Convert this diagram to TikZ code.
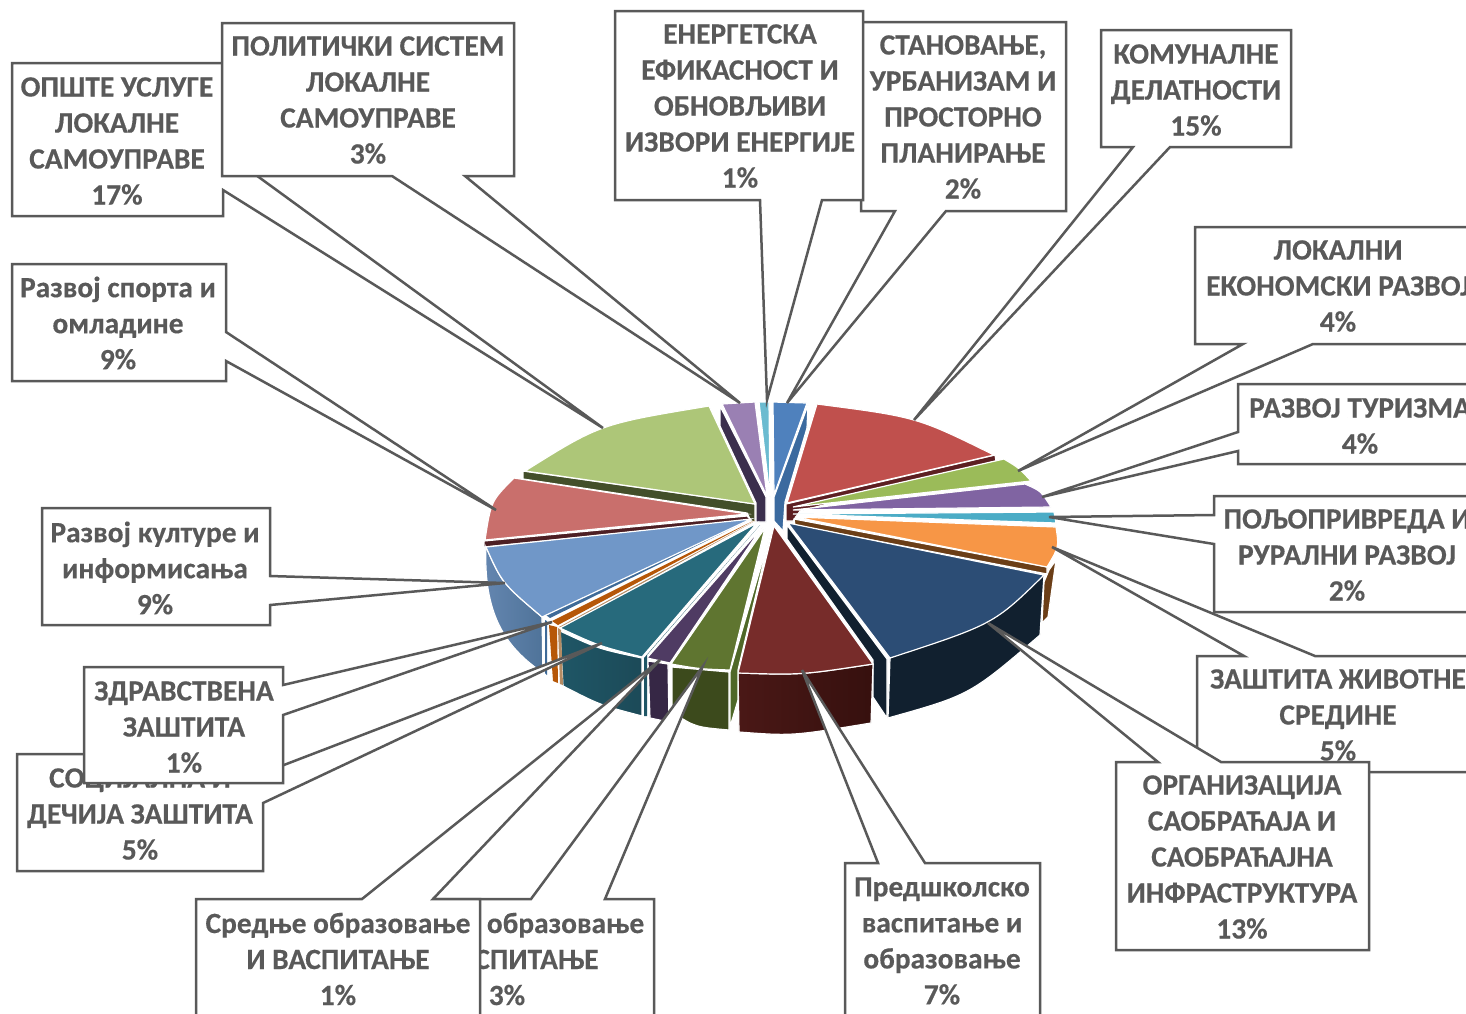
\documentclass[tikz,border=0pt]{standalone}
\usepackage{fontspec}
\setmainfont{Carlito}[BoldFeatures={FakeBold=0.35}]
\definecolor{linegray}{HTML}{595959}
\definecolor{cBlue}{HTML}{4F81BD}\definecolor{cBlueS}{HTML}{3B6A9F}
\definecolor{cRed}{HTML}{C0504D}\definecolor{cRedS}{HTML}{5D1F22}
\definecolor{cGreen}{HTML}{9BBB59}
\definecolor{cPurple}{HTML}{8064A2}
\definecolor{cTeal}{HTML}{4BACC6}
\definecolor{cOrange}{HTML}{F79646}\definecolor{cOrangeS}{HTML}{6B3E17}
\definecolor{cNavy}{HTML}{2C4D75}\definecolor{cNavyS}{HTML}{11202F}
\definecolor{cMaroon}{HTML}{772C2A}\definecolor{cMaroonA}{HTML}{4A1816}\definecolor{cMaroonB}{HTML}{36100E}
\definecolor{cOlive}{HTML}{5F7530}\definecolor{cOliveS}{HTML}{3C4A1C}\definecolor{cOliveD}{HTML}{4F6828}
\definecolor{cPlum}{HTML}{4F3B63}\definecolor{cPlumS}{HTML}{362745}
\definecolor{cSea}{HTML}{276A7C}\definecolor{cSeaA}{HTML}{1F5666}\definecolor{cSeaB}{HTML}{1C4A58}
\definecolor{cRust}{HTML}{B65708}\definecolor{cRustL}{HTML}{B58B63}
\definecolor{cSky}{HTML}{7097C8}\definecolor{cSkyA}{HTML}{6486B0}\definecolor{cSkyB}{HTML}{4F7399}\definecolor{cSkyD}{HTML}{3E6A98}
\definecolor{cPink}{HTML}{C96F6C}\definecolor{cPinkS}{HTML}{4D1F24}
\definecolor{cLime}{HTML}{ADC678}\definecolor{cLimeS}{HTML}{434F2A}
\definecolor{cLilac}{HTML}{9A80B3}\definecolor{cLilacS}{HTML}{3B2F4D}
\definecolor{cCyan}{HTML}{6BBBD0}
\tikzset{
  face/.style={draw=white,line width=1.2pt,line join=miter},
  callout/.style={draw=linegray,fill=white,line width=2.5pt,line join=miter},
  lbl/.style={text=linegray,align=center,inner sep=0pt,font=\fontsize{29.4}{36}\selectfont\bfseries},
}
\begin{document}
\begin{tikzpicture}[x=1pt,y=-1pt]
\useasboundingbox (0,0) rectangle (1466,1013);
\clip (0,0) rectangle (1466,1013);
% ---- back slices: side faces and strips
\path[face,fill=cLilacS] (720,406) -- (766,497) -- (766,522) -- (756,522) -- (756,503) -- (720,426) -- cycle;
\path[face,fill=cBlueS] (808,405) -- (807,428) -- (785,502) -- (783,531) -- (774,521) -- (774,497) -- cycle;
\path[face,fill=cRedS] (995,455) -- (996,461) -- (800,511) -- (793,521) -- (786,521) -- (786,504) -- cycle;
\path[face,fill=cLimeS] (523,471) -- (755,504) -- (755,522) -- (751,521) -- (747,513) -- (523,479) -- cycle;
\path[face,fill=cPinkS] (484,541) -- (747,516) -- (751,520) -- (484,547) -- cycle;
% ---- back slices: top faces
\path[face,fill=cLilac] (767,496) -- (722,404) -- (755,402) -- cycle;
\path[face,fill=cCyan] (770,497) -- (759,402) -- (769,402) -- cycle;
\path[face,fill=cBlue] (774,495) -- (773,402) -- (807,403) -- cycle;
\path[face,fill=cRed] (787,503) -- (817,404) .. controls (917,417) .. (994,455) -- cycle;
\path[face,fill=cLime] (755,504) -- (709,406) .. controls (600,424) .. (525,471) -- cycle;
\path[face,fill=cPink] (747,514) -- (514,478) .. controls (491,501) .. (485,540) -- cycle;
\path[face,fill=cGreen] (793,507) -- (1004,459) .. controls (1019,468) .. (1031,481) -- cycle;
\path[face,fill=cPurple] (793,510) -- (1025,484) .. controls (1041,491) .. (1051,507) -- cycle;
\path[face,fill=cTeal] (793,514) -- (1054,512) -- (1056,523) -- cycle;
% ---- orange
\path[face,fill=cOrangeS] (1049,570) -- (1056,560) -- (1048,617) -- (1042,623) -- (1044,582) -- cycle;
\path[face,fill=cOrangeS] (794,519) -- (1047,567) -- (1047,574) -- (795,525) -- cycle;
\path[face,fill=cOrange] (795,517) -- (1056,527) .. controls (1059,547) .. (1047,567) -- cycle;
% ---- navy
\path[face,fill=cNavyS] (1044,575) -- (1040,635) .. controls (970,695) .. (888,718) -- (890,658) -- cycle;
\path[face,fill=cNavyS] (787,525) -- (887,659) -- (887,718) -- (873,697) -- (873,660) -- (787,539) -- cycle;
\path[face,fill=cNavy] (788,523) -- (1044,575) .. controls (994,624) .. (890,658) -- cycle;
% ---- maroon
\path[face,left color=cMaroonA,right color=cMaroonB] (738,673) .. controls (801,675) .. (873,664) -- (871,723) .. controls (792,736) .. (739,732) -- cycle;
\path[face,fill=cMaroon] (774,526) -- (873,664) .. controls (801,675) .. (738,673) -- cycle;
% ---- olive
\path[face,fill=cOliveD] (770,535) -- (738,670) -- (738,700) -- (730,727) -- (730,672) -- cycle;
\path[face,fill=cOliveS] (672,667) -- (729,672) -- (729,730) .. controls (695,727) .. (672,712) -- cycle;
\path[face,fill=cOlive] (765,528) -- (730,670) .. controls (700,669) .. (671,664) -- cycle;
% ---- plum
\path[face,fill=cPlumS] (648,661) -- (668,664) -- (669,722) -- (650,718) -- cycle;
\path[face,fill=cPlum] (762,527) -- (670,663) -- (647,658) -- cycle;
% ---- thin strips under the sea and sky slices
\fill[cSkyD] (753,518) -- (550,618) -- (546,615) -- cycle;
\fill[cRustL] (755,521) -- (562,628) -- (559,627) -- cycle;
\fill[cRust] (755,520) -- (558,625) -- (552,621) -- cycle;
% ---- sea
\fill[cSeaA] (760,525) -- (647,655) -- (647,716) -- (644,716) -- (644,658) -- cycle;
\path[face,left color=cSeaA,right color=cSeaB] (560,631) .. controls (599,649) .. (642,658) -- (642,716) .. controls (600,705) .. (563,686) -- cycle;
\path[face,fill=cSea] (757,523) -- (642,657) .. controls (599,646) .. (560,628) -- cycle;
% ---- rust sides
\fill[cRustL] (558,628) -- (561,630) -- (563,685) -- (560,684) -- cycle;
\fill[cRust] (549,625) -- (557,627) -- (558,683) -- (553,681) -- cycle;
% ---- sky
\path[face,left color=cSkyA,right color=cSkyB] (486,547) .. controls (483,620) and (510,650) .. (543,673) -- (542,617) .. controls (502,583) .. cycle;
\fill[cSkyD] (545,620) -- (547,621) -- (547,675) -- (545,673) -- cycle;
\path[face,fill=cSky] (751,519) -- (486,547) .. controls (502,583) .. (542,617) -- cycle;
% ---- callouts, each with its label, in stacking order
\draw[callout] (12,63) -- (223,63) -- (223,151) -- (603,428) -- (223,190) -- (223,216) -- (12,216) -- cycle;
\node[lbl] (tOpste) at (117,141) {ОПШТЕ УСЛУГЕ\\ЛОКАЛНЕ\\САМОУПРАВЕ\\17\%};
\draw[callout] (222,23) -- (514,23) -- (514,176) -- (465,176) -- (740,403) -- (392,176) -- (222,176) -- cycle;
\node[lbl] (tPolit) at (368,100) {ПОЛИТИЧКИ СИСТЕМ\\ЛОКАЛНЕ\\САМОУПРАВЕ\\3\%};
\draw[callout] (12,264) -- (226,264) -- (226,332) -- (496,510) -- (226,361) -- (226,381) -- (12,381) -- cycle;
\node[lbl] (tSport) at (118,323) {Развој спорта и\\омладине\\9\%};
\draw[callout] (42,508) -- (270,508) -- (270,576) -- (505,583) -- (270,605) -- (270,625) -- (42,625) -- cycle;
\node[lbl] (tKult) at (155,568) {Развој културе и\\информисања\\9\%};
\draw[callout] (17,754) -- (263,754) -- (263,773) -- (602,643) -- (263,803) -- (263,871) -- (17,871) -- cycle;
\node[lbl] (tSoc) at (140,814) {СОЦИЈАЛНА И\\ДЕЧИЈА ЗАШТИТА\\5\%};
\draw[callout] (84,667) -- (283,667) -- (283,685) -- (552,622) -- (283,715) -- (283,783) -- (84,783) -- cycle;
\node[lbl] (tZdr) at (184,727) {ЗДРАВСТВЕНА\\ЗАШТИТА\\1\%};
\draw[callout] (360,899) -- (531,899) -- (703,666) -- (605,899) -- (654,899) -- (654,1030) -- (360,1030) -- cycle;
\node[lbl] (tOsn) at (507,959) {Основно образовање\\И ВАСПИТАЊЕ\\3\%};
\draw[callout] (196,899) -- (362,899) -- (660,660) -- (433,899) -- (480,899) -- (480,1030) -- (196,1030) -- cycle;
\node[lbl] (tSred) at (338,959) {Средње образовање\\И ВАСПИТАЊЕ\\1\%};
\draw[callout] (845,863) -- (878,863) -- (802,670) -- (925,863) -- (1040,863) -- (1040,1030) -- (845,1030) -- cycle;
\node[lbl] (tPred) at (942,941) {Предшколско\\васпитање и\\образовање\\7\%};
\draw[callout] (1197,656) -- (1244,656) -- (1052,547) -- (1315,656) -- (1490,656) -- (1490,772) -- (1197,772) -- cycle;
\node[lbl] (tZast) at (1338,715) {ЗАШТИТА ЖИВОТНЕ\\СРЕДИНЕ\\5\%};
\draw[callout] (1116,762) -- (1158,762) -- (988,623) -- (1221,762) -- (1369,762) -- (1369,950) -- (1116,950) -- cycle;
\node[lbl] (tOrg) at (1242,857) {ОРГАНИЗАЦИЈА\\САОБРАЋАЈА И\\САОБРАЋАЈНА\\ИНФРАСТРУКТУРА\\13\%};
\draw[callout] (1214,496) -- (1490,496) -- (1490,612) -- (1214,612) -- (1214,544) -- (1049,517) -- (1214,515) -- cycle;
\node[lbl] (tPolj) at (1347,555) {ПОЉОПРИВРЕДА И\\РУРАЛНИ РАЗВОЈ\\2\%};
\draw[callout] (1238,384) -- (1490,384) -- (1490,464) -- (1238,464) -- (1238,451) -- (1042,497) -- (1238,432) -- cycle;
\node[lbl] (tTur) at (1360,426) {РАЗВОЈ ТУРИЗМА\\4\%};
\draw[callout] (1195,227) -- (1490,227) -- (1490,344) -- (1313,344) -- (1018,471) -- (1243,344) -- (1195,344) -- cycle;
\node[lbl] (tLok) at (1338,286) {ЛОКАЛНИ\\ЕКОНОМСКИ РАЗВОЈ\\4\%};
\draw[callout] (1101,30) -- (1291,30) -- (1291,147) -- (1170,147) -- (914,420) -- (1133,147) -- (1101,147) -- cycle;
\node[lbl] (tKom) at (1196,90) {КОМУНАЛНЕ\\ДЕЛАТНОСТИ\\15\%};
\draw[callout] (861,22) -- (1066,22) -- (1066,211) -- (946,211) -- (787,403) -- (895,211) -- (861,211) -- cycle;
\node[lbl] (tStan) at (963,117) {СТАНОВАЊЕ,\\УРБАНИЗАМ И\\ПРОСТОРНО\\ПЛАНИРАЊЕ\\2\%};
\draw[callout] (615,11) -- (863,11) -- (863,200) -- (822,200) -- (767,400) -- (760,200) -- (615,200) -- cycle;
\node[lbl] (tEner) at (740,106) {ЕНЕРГЕТСКА\\ЕФИКАСНОСТ И\\ОБНОВЉИВИ\\ИЗВОРИ ЕНЕРГИЈЕ\\1\%};
\end{tikzpicture}
\end{document}
